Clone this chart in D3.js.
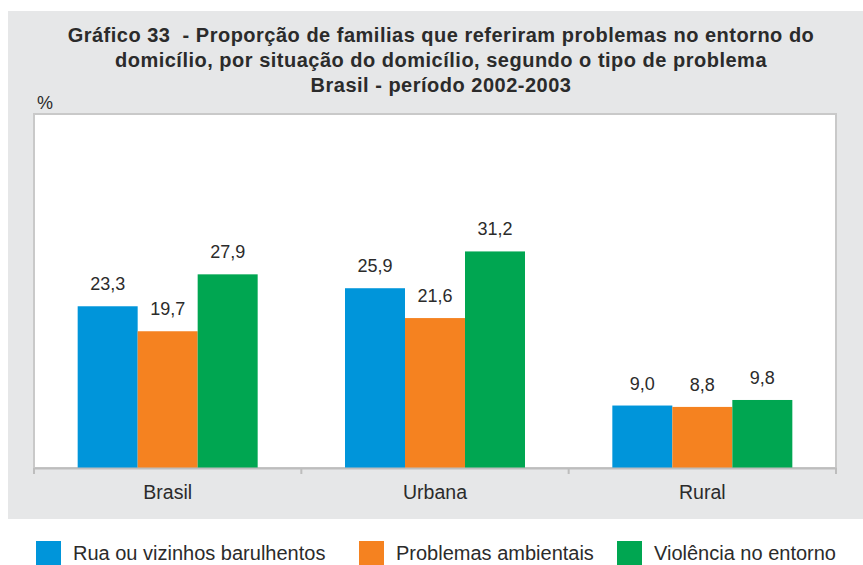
<!DOCTYPE html>
<html>
<head>
<meta charset="utf-8">
<script src="https://cdn.jsdelivr.net/npm/d3@7"></script>
<style>
  html, body { margin: 0; padding: 0; background: #ffffff; }
  svg { display: block; font-family: "Liberation Sans", Arial, sans-serif; }
  .title { white-space: pre; }
</style>
</head>
<body>
<svg id="chart" width="863" height="565"></svg>
<script>
// Situação do domicílio
const categories = ["Brasil", "Urbana", "Rural"];
// Tipo de problema
const seriesNames = ["Rua ou vizinhos barulhentos", "Problemas ambientais", "Violência no entorno"];
const seriesColors = ["#0095da", "#f58220", "#00a651"];
// Percentual por tipo de problema, na ordem das categorias
const valuesRua = [23.3, 25.9, 9.0];
const valuesAmbientais = [19.7, 21.6, 8.8];
const valuesViolencia = [27.9, 31.2, 9.8];
const titleLines = [
  "Gráfico 33  - Proporção de familias que referiram problemas no entorno do",
  "domicílio, por situação do domicílio, segundo o tipo de problema",
  "Brasil - período 2002-2003"
];
const yUnit = "%";

const seriesValues = [valuesRua, valuesAmbientais, valuesViolencia];
const fmt = v => d3.format(".1f")(v).replace(".", ",");
const textColor = "#2b2b2b";

const svg = d3.select("#chart");

// grey panel behind title and plot
svg.append("rect")
  .attr("x", 8).attr("y", 11)
  .attr("width", 855).attr("height", 508)
  .attr("fill", "#e6e7e8");

// title
svg.append("g")
  .selectAll("text")
  .data(titleLines)
  .join("text")
  .attr("class", "title")
  .attr("x", 441)
  .attr("y", (d, i) => 42 + i * 25)
  .attr("text-anchor", "middle")
  .attr("font-size", 20)
  .attr("letter-spacing", 0.5)
  .attr("font-weight", "bold")
  .attr("fill", textColor)
  .text(d => d);

const plot = { left: 34, right: 836, top: 114, bottom: 468 };

// white plotting area
svg.append("rect")
  .attr("x", plot.left).attr("y", plot.top)
  .attr("width", plot.right - plot.left).attr("height", plot.bottom - plot.top)
  .attr("fill", "#ffffff")
  .attr("stroke", "#c9c9c9")
  .attr("stroke-width", 2);

svg.append("text")
  .attr("x", 37).attr("y", 109)
  .attr("font-size", 18)
  .attr("fill", textColor)
  .text(yUnit);

const x0 = d3.scaleBand()
  .domain(categories)
  .range([plot.left, plot.right])
  .paddingInner(0)
  .paddingOuter(0);

const groupInner = 180;
const x1 = d3.scaleBand()
  .domain(d3.range(seriesNames.length))
  .range([(x0.bandwidth() - groupInner) / 2, (x0.bandwidth() + groupInner) / 2]);

const y = d3.scaleLinear()
  .domain([0, 51])
  .range([plot.bottom, plot.top]);

const rows = categories.map((c, ci) => ({
  cat: c,
  vals: seriesValues.map((s, si) => ({ si, v: s[ci] }))
}));

const groups = svg.append("g")
  .selectAll("g")
  .data(rows)
  .join("g")
  .attr("transform", d => `translate(${x0(d.cat)},0)`);

groups.selectAll("rect")
  .data(d => d.vals)
  .join("rect")
  .attr("x", d => x1(d.si))
  .attr("width", x1.bandwidth())
  .attr("y", d => y(d.v))
  .attr("height", d => y(0) - y(d.v))
  .attr("fill", d => seriesColors[d.si]);

groups.selectAll("text.value")
  .data(d => d.vals)
  .join("text")
  .attr("class", "value")
  .attr("x", d => x1(d.si) + x1.bandwidth() / 2)
  .attr("y", d => y(d.v) - 16)
  .attr("text-anchor", "middle")
  .attr("font-size", 18)
  .attr("fill", textColor)
  .text(d => fmt(d.v));

// category axis
const xAxis = d3.axisBottom(x0).tickSize(0).tickPadding(0);
const axisG = svg.append("g")
  .attr("transform", `translate(0,${plot.bottom})`)
  .call(xAxis);
axisG.select(".domain").attr("stroke", "#bdbdbd").attr("stroke-width", 2);
axisG.selectAll(".tick text")
  .attr("y", 31)
  .attr("dy", null)
  .attr("font-family", "Liberation Sans, Arial, sans-serif")
  .attr("font-size", 19.5)
  .attr("fill", textColor);

// group separators below the baseline
const edges = categories.map(c => x0(c)).concat([x0.range()[1]]);
svg.append("g")
  .selectAll("line")
  .data(edges)
  .join("line")
  .attr("x1", d => d).attr("x2", d => d)
  .attr("y1", plot.bottom).attr("y2", plot.bottom + 6)
  .attr("stroke", "#bdbdbd")
  .attr("stroke-width", 2);

// legend
const legendX = [36, 359, 617];
const legend = svg.append("g")
  .selectAll("g")
  .data(seriesNames)
  .join("g")
  .attr("transform", (d, i) => `translate(${legendX[i]},541)`);
legend.append("rect")
  .attr("width", 25).attr("height", 24)
  .attr("fill", (d, i) => seriesColors[i]);
legend.append("text")
  .attr("x", 37).attr("y", 19)
  .attr("font-size", 20)
  .attr("fill", textColor)
  .text(d => d);
</script>
</body>
</html>
